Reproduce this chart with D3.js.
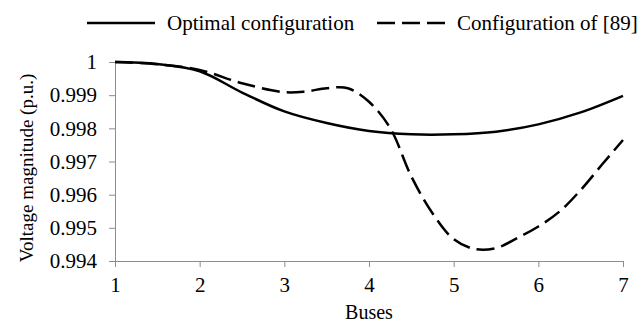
<!DOCTYPE html>
<html>
<head>
<meta charset="utf-8">
<script src="https://cdn.jsdelivr.net/npm/d3@7"></script>
<style>
body { margin: 0; background: #fff; }
.axis path, .axis line { stroke: #8c8c8c; }
</style>
</head>
<body>
<div id="chart"></div>
<script>
// bus positions sampled along the curves
var busesOpt = [1, 1.5, 2, 2.5, 3, 3.5, 4, 4.5, 5, 5.5, 6, 6.5, 7];
var voltOpt = [1.0000, 0.99994, 0.99972, 0.99908, 0.99851, 0.99816, 0.99792, 0.99782, 0.99782, 0.99790, 0.99812, 0.99848, 0.99898];

var busesRef = [1, 1.5, 2, 2.5, 3, 3.25, 3.5, 3.75, 4, 4.25, 4.5, 4.75, 5, 5.25, 5.5, 5.75, 6, 6.25, 6.5, 6.75, 7];
var voltRef = [1.0000, 0.99993, 0.99976, 0.99936, 0.99909, 0.99911, 0.99921, 0.99921, 0.99880, 0.99801, 0.99655, 0.99544, 0.99466, 0.99436, 0.99439, 0.99469, 0.99504, 0.99549, 0.99614, 0.99690, 0.99765];

var xTicks = [1, 2, 3, 4, 5, 6, 7];
var xTickLabels = ["1", "2", "3", "4", "5", "6", "7"];
var yTicks = [0.994, 0.995, 0.996, 0.997, 0.998, 0.999, 1];
var yTickLabels = ["0.994", "0.995", "0.996", "0.997", "0.998", "0.999", "1"];

var seriesNames = ["Optimal configuration", "Configuration of [89]"];

var width = 640, height = 328;
var margin = {top: 62, right: 17, bottom: 67, left: 115};
var font = "'Liberation Serif', 'DejaVu Serif', serif";
var fs = 21;

var svg = d3.select("#chart").append("svg")
    .attr("width", width)
    .attr("height", height)
    .attr("font-family", font);

var x = d3.scaleLinear().domain([1, 7]).range([margin.left, width - margin.right]);
var y = d3.scaleLinear().domain([0.994, 1]).range([height - margin.bottom, margin.top]);

svg.append("g")
    .attr("class", "axis")
    .attr("transform", "translate(0," + (height - margin.bottom) + ")")
    .call(d3.axisBottom(x).tickValues(xTicks).tickSize(6).tickSizeOuter(0).tickPadding(10)
        .tickFormat(function(d, i) { return xTickLabels[i]; }));

svg.append("g")
    .attr("class", "axis")
    .attr("transform", "translate(" + margin.left + ",0)")
    .call(d3.axisLeft(y).tickValues(yTicks).tickSize(6).tickSizeOuter(0).tickPadding(12)
        .tickFormat(function(d, i) { return yTickLabels[i]; }));

svg.selectAll(".axis")
    .attr("font-family", font)
    .attr("font-size", fs);
svg.selectAll(".axis text").attr("fill", "#000");

// axis titles
svg.append("text")
    .attr("x", x(4))
    .attr("y", 319)
    .attr("text-anchor", "middle")
    .attr("font-size", 20)
    .text("Buses");

svg.append("text")
    .attr("transform", "translate(33,168) rotate(-90)")
    .attr("text-anchor", "middle")
    .attr("font-size", 19)
    .text("Voltage magnitude (p.u.)");

var line = d3.line()
    .x(function(d) { return x(d[0]); })
    .y(function(d) { return y(d[1]); })
    .curve(d3.curveCatmullRom);

svg.append("path")
    .datum(d3.zip(busesOpt, voltOpt))
    .attr("fill", "none")
    .attr("stroke", "#000")
    .attr("stroke-width", 2.5)
    .attr("d", line);

svg.append("path")
    .datum(d3.zip(busesRef, voltRef))
    .attr("fill", "none")
    .attr("stroke", "#000")
    .attr("stroke-width", 2.5)
    .attr("stroke-dasharray", "18,7")
    .attr("d", line);

// legend
var legend = [
    {name: seriesNames[0], x1: 87, dash: null},
    {name: seriesNames[1], x1: 377, dash: "18,7"}
];
legend.forEach(function(l) {
    svg.append("line")
        .attr("x1", l.x1).attr("x2", l.x1 + 68)
        .attr("y1", 23).attr("y2", 23)
        .attr("stroke", "#000")
        .attr("stroke-width", 2.5)
        .attr("stroke-dasharray", l.dash);
    svg.append("text")
        .attr("x", l.x1 + 80)
        .attr("y", 30)
        .attr("font-size", fs)
        .text(l.name);
});
</script>
</body>
</html>
